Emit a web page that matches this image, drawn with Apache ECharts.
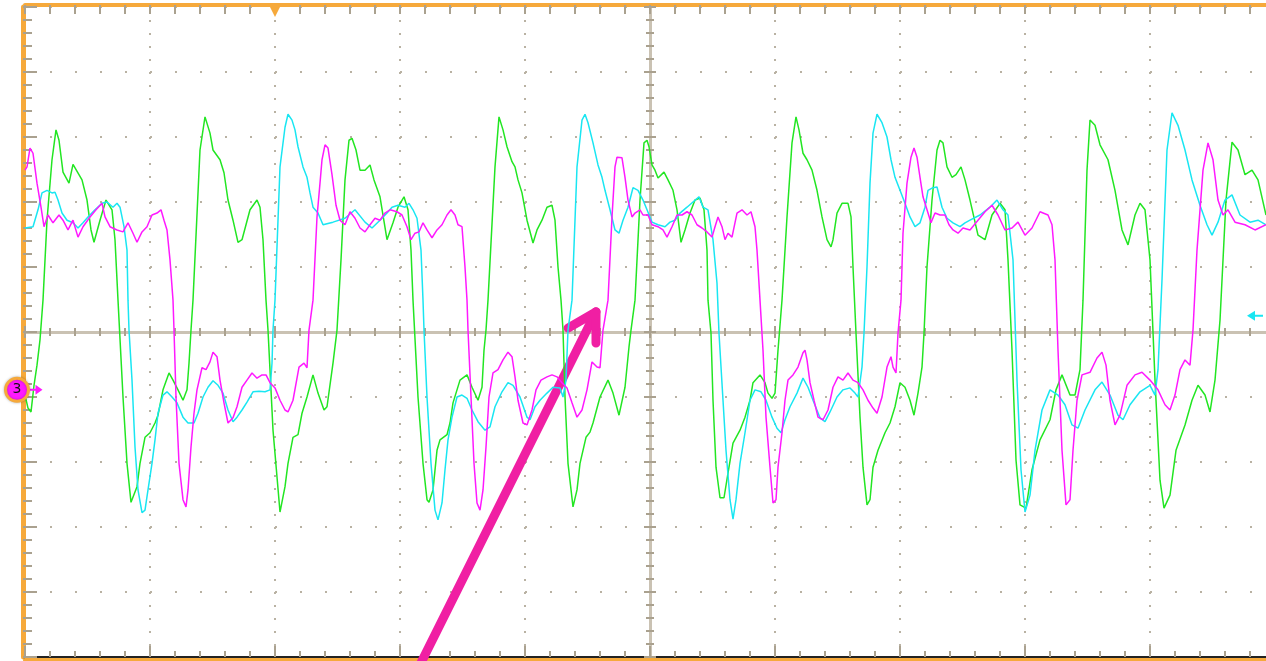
<!DOCTYPE html>
<html>
<head>
<meta charset="utf-8">
<title>Scope capture</title>
<script src="https://cdn.jsdelivr.net/npm/echarts/dist/echarts.min.js"></script>
<style>
  html, body { margin: 0; padding: 0; background: #ffffff; }
  #chart { width: 1266px; height: 661px; }
</style>
</head>
<body>
<div id="chart"></div>
<script>
// Time in microseconds (250 us/div, 10 divisions), amplitude in divisions (1 div per gridline).
const TIME_MAX = 2500;
const TIME_DIV = 250;
const AMP_MIN = -5;
const AMP_MAX = 5;

// Channel 2 (green)
const greenTrace = [
[0,-0.97],[6,-1.17],[12,-1.23],[18,-0.82],[24,-0.51],[30,-0.12],[36,0.49],[44,1.72],[54,2.65],[62,3.11],[68,2.95],[76,2.46],[88,2.29],[96,2.58],[114,2.34],[124,2.03],[132,1.57],[138,1.38],[150,1.72],[162,2.03],[166,2.06],[174,1.88],[180,1.42],[186,0.49],[196,-1.00],[204,-2.02],[212,-2.62],[216,-2.62],[224,-2.38],[230,-2.02],[240,-1.62],[250,-1.55],[260,-1.40],[266,-1.28],[276,-0.89],[288,-0.63],[296,-0.74],[306,-0.89],[316,-1.05],[324,-0.89],[328,-0.48],[332,0.03],[336,0.49],[350,2.80],[360,3.31],[370,3.06],[376,2.80],[390,2.65],[398,2.45],[406,2.03],[416,1.72],[426,1.38],[434,1.42],[450,1.88],[464,2.03],[470,1.92],[476,1.42],[482,0.49],[486,0.03],[496,-1.51],[510,-2.77],[520,-2.38],[526,-2.02],[536,-1.62],[546,-1.58],[554,-1.25],[564,-1.00],[576,-0.66],[586,-0.94],[598,-1.20],[604,-1.15],[616,-0.48],[624,0.03],[632,1.11],[640,2.34],[648,2.95],[654,2.98],[662,2.80],[670,2.49],[680,2.49],[690,2.57],[698,2.34],[710,2.08],[724,1.42],[736,1.68],[746,1.92],[758,2.08],[766,1.88],[772,1.26],[776,0.49],[786,-1.00],[796,-2.02],[804,-2.58],[808,-2.62],[816,-2.43],[824,-1.82],[830,-1.66],[844,-1.58],[850,-1.40],[856,-1.09],[870,-0.74],[884,-0.66],[894,-0.85],[906,-1.05],[914,-0.85],[918,-0.28],[922,0.03],[926,0.49],[940,2.54],[948,3.31],[956,3.11],[964,2.85],[974,2.62],[980,2.54],[986,2.34],[994,2.14],[1004,1.72],[1016,1.37],[1024,1.57],[1034,1.72],[1044,1.92],[1054,1.95],[1060,1.72],[1066,1.00],[1072,0.49],[1076,0.03],[1080,-1.00],[1086,-2.02],[1096,-2.69],[1104,-2.43],[1110,-2.02],[1122,-1.62],[1130,-1.54],[1136,-1.40],[1150,-1.00],[1166,-0.74],[1176,-0.94],[1188,-1.28],[1200,-0.85],[1208,-0.23],[1212,0.03],[1220,0.49],[1230,2.03],[1238,2.91],[1244,2.95],[1248,2.85],[1254,2.57],[1260,2.49],[1266,2.37],[1278,2.46],[1286,2.34],[1296,2.18],[1304,1.88],[1312,1.38],[1320,1.57],[1330,1.83],[1340,2.03],[1350,2.06],[1358,1.88],[1364,1.26],[1366,0.49],[1372,-0.02],[1376,-1.05],[1382,-2.08],[1390,-2.55],[1398,-2.55],[1406,-2.17],[1416,-1.71],[1430,-1.51],[1440,-1.31],[1450,-1.05],[1456,-0.78],[1470,-0.66],[1480,-0.78],[1486,-0.94],[1494,-1.02],[1500,-0.94],[1506,-0.28],[1514,0.49],[1524,1.77],[1534,2.91],[1542,3.31],[1548,3.11],[1556,2.75],[1564,2.65],[1574,2.49],[1584,2.18],[1594,1.77],[1604,1.42],[1612,1.31],[1616,1.42],[1624,1.83],[1634,1.98],[1646,1.98],[1652,1.77],[1656,1.00],[1662,-0.02],[1670,-1.31],[1676,-2.08],[1684,-2.66],[1690,-2.58],[1696,-2.08],[1706,-1.82],[1720,-1.55],[1730,-1.40],[1740,-1.15],[1750,-0.78],[1760,-0.85],[1770,-1.05],[1778,-1.28],[1786,-0.94],[1794,-0.54],[1798,-0.02],[1804,1.00],[1814,2.03],[1824,2.80],[1830,2.95],[1836,2.91],[1844,2.54],[1854,2.38],[1862,2.42],[1872,2.54],[1880,2.34],[1890,2.03],[1906,1.49],[1920,1.42],[1934,1.80],[1950,1.98],[1960,1.88],[1966,1.11],[1974,-0.28],[1982,-1.97],[1990,-2.66],[2002,-2.71],[2014,-2.12],[2030,-1.66],[2050,-1.35],[2062,-0.89],[2074,-0.66],[2090,-0.97],[2100,-0.97],[2110,-0.58],[2116,0.49],[2124,2.49],[2130,3.26],[2140,3.18],[2150,2.88],[2166,2.65],[2180,2.18],[2194,1.57],[2206,1.34],[2220,1.80],[2230,1.98],[2240,1.88],[2250,1.11],[2260,-0.74],[2270,-2.28],[2278,-2.71],[2290,-2.51],[2302,-1.82],[2320,-1.43],[2334,-1.05],[2346,-0.82],[2360,-0.97],[2370,-1.23],[2380,-0.74],[2390,0.18],[2402,2.03],[2414,2.92],[2426,2.80],[2440,2.42],[2454,2.49],[2466,2.34],[2482,1.80]
];

// Channel 1 (cyan)
const cyanTrace = [
[0,1.60],[4,1.62],[16,1.62],[26,1.88],[34,2.14],[44,2.18],[54,2.14],[60,2.15],[66,2.03],[74,1.83],[84,1.72],[96,1.68],[106,1.60],[116,1.68],[126,1.77],[140,1.88],[154,1.98],[164,2.00],[176,1.92],[184,1.98],[190,1.92],[198,1.62],[204,1.26],[206,0.49],[208,0.03],[214,-0.74],[220,-1.77],[226,-2.43],[234,-2.78],[240,-2.74],[246,-2.43],[254,-2.02],[260,-1.66],[266,-1.25],[276,-0.97],[284,-0.92],[294,-1.00],[304,-1.09],[316,-1.31],[326,-1.40],[338,-1.40],[346,-1.25],[356,-1.00],[366,-0.85],[376,-0.75],[386,-0.82],[396,-0.94],[406,-1.20],[416,-1.38],[424,-1.31],[434,-1.20],[444,-1.08],[456,-0.92],[468,-0.91],[480,-0.92],[490,-0.89],[494,-0.48],[496,0.03],[500,0.49],[510,2.54],[520,3.15],[526,3.35],[534,3.26],[540,3.11],[546,2.85],[556,2.54],[564,2.38],[570,2.14],[576,1.92],[586,1.83],[596,1.65],[616,1.69],[640,1.75],[660,1.88],[680,1.69],[694,1.60],[710,1.72],[724,1.83],[734,1.92],[746,1.95],[760,1.92],[768,1.98],[776,1.88],[784,1.75],[792,1.26],[796,0.49],[798,0.03],[804,-1.00],[812,-2.02],[820,-2.74],[826,-2.89],[834,-2.63],[840,-2.12],[846,-1.66],[854,-1.31],[864,-1.00],[874,-0.97],[884,-1.02],[894,-1.20],[906,-1.38],[920,-1.51],[930,-1.46],[940,-1.15],[954,-0.92],[966,-0.78],[976,-0.82],[990,-1.00],[1004,-1.31],[1010,-1.35],[1020,-1.15],[1030,-1.05],[1044,-0.94],[1056,-0.85],[1070,-0.86],[1076,-1.00],[1082,-0.74],[1086,0.03],[1094,0.49],[1104,2.54],[1114,3.26],[1120,3.35],[1126,3.22],[1136,2.91],[1146,2.57],[1154,2.38],[1160,2.18],[1170,1.88],[1180,1.57],[1188,1.52],[1196,1.72],[1206,1.92],[1216,2.22],[1226,2.18],[1236,2.03],[1244,1.88],[1254,1.69],[1266,1.65],[1280,1.62],[1290,1.69],[1300,1.72],[1310,1.83],[1324,1.92],[1336,2.00],[1348,2.08],[1356,1.92],[1366,1.88],[1376,1.42],[1384,0.75],[1388,-0.02],[1396,-1.05],[1402,-1.82],[1410,-2.58],[1416,-2.88],[1422,-2.58],[1430,-2.02],[1440,-1.55],[1450,-1.05],[1460,-0.89],[1472,-0.92],[1482,-1.05],[1494,-1.31],[1504,-1.48],[1512,-1.55],[1520,-1.35],[1530,-1.15],[1544,-0.94],[1556,-0.71],[1566,-0.85],[1576,-1.05],[1590,-1.32],[1600,-1.38],[1610,-1.23],[1624,-1.00],[1636,-0.89],[1650,-0.86],[1660,-0.94],[1666,-1.00],[1674,-0.54],[1678,-0.02],[1684,1.00],[1690,2.29],[1696,3.06],[1704,3.35],[1714,3.22],[1724,3.00],[1732,2.65],[1740,2.38],[1750,2.18],[1760,1.98],[1770,1.77],[1780,1.62],[1790,1.68],[1800,1.92],[1806,2.18],[1816,2.22],[1824,2.23],[1834,1.92],[1844,1.75],[1856,1.68],[1870,1.62],[1880,1.68],[1890,1.72],[1910,1.80],[1930,1.92],[1944,2.03],[1956,1.88],[1966,1.80],[1976,1.11],[1984,-0.74],[1992,-2.12],[2000,-2.77],[2010,-2.51],[2020,-1.82],[2034,-1.20],[2050,-0.89],[2066,-0.97],[2080,-1.12],[2094,-1.43],[2106,-1.48],[2120,-1.20],[2140,-0.89],[2154,-0.77],[2170,-0.97],[2186,-1.28],[2196,-1.35],[2210,-1.12],[2230,-0.92],[2250,-0.82],[2260,-0.97],[2266,-0.58],[2274,0.80],[2284,2.80],[2294,3.37],[2306,3.18],[2320,2.80],[2334,2.34],[2350,1.95],[2364,1.65],[2374,1.49],[2386,1.69],[2400,2.03],[2414,2.11],[2430,1.80],[2450,1.69],[2466,1.72],[2482,1.65]
];

// Channel 3 (magenta)
const magentaTrace = [
[0,2.49],[4,2.54],[10,2.83],[16,2.75],[24,2.29],[32,1.92],[38,1.62],[46,1.80],[56,1.68],[68,1.80],[76,1.72],[86,1.57],[96,1.72],[106,1.46],[116,1.62],[130,1.77],[142,1.88],[154,1.98],[160,1.77],[170,1.62],[184,1.57],[196,1.54],[206,1.68],[216,1.52],[224,1.38],[234,1.54],[244,1.62],[254,1.80],[264,1.83],[272,1.88],[278,1.72],[284,1.57],[290,1.11],[296,0.49],[298,0.03],[302,-1.00],[308,-2.02],[316,-2.58],[322,-2.69],[326,-2.43],[332,-1.77],[338,-1.25],[344,-0.89],[354,-0.55],[362,-0.58],[370,-0.46],[376,-0.31],[384,-0.38],[390,-0.74],[398,-1.09],[406,-1.40],[416,-1.32],[424,-1.15],[434,-0.85],[444,-0.74],[454,-0.63],[464,-0.71],[474,-0.66],[482,-0.66],[490,-0.78],[500,-0.86],[510,-1.05],[520,-1.20],[526,-1.23],[536,-1.05],[548,-0.54],[558,-0.48],[564,-0.55],[568,0.03],[576,0.49],[584,1.77],[590,2.29],[594,2.65],[600,2.88],[606,2.83],[614,2.42],[622,1.95],[630,1.72],[640,1.65],[650,1.85],[660,1.75],[670,1.60],[680,1.54],[690,1.65],[700,1.75],[710,1.72],[720,1.83],[730,1.88],[744,1.85],[754,1.80],[764,1.62],[772,1.42],[780,1.52],[788,1.54],[796,1.68],[804,1.57],[814,1.45],[824,1.57],[834,1.65],[844,1.80],[852,1.88],[860,1.80],[866,1.65],[874,1.62],[880,1.00],[884,0.49],[886,0.03],[892,-1.00],[898,-2.02],[904,-2.63],[910,-2.74],[916,-2.43],[922,-1.77],[928,-1.00],[936,-0.63],[946,-0.58],[956,-0.43],[966,-0.31],[974,-0.38],[980,-0.69],[986,-1.05],[996,-1.40],[1004,-1.43],[1014,-1.20],[1022,-0.89],[1032,-0.74],[1044,-0.69],[1054,-0.66],[1064,-0.69],[1074,-0.78],[1084,-0.86],[1094,-1.09],[1104,-1.31],[1114,-1.20],[1124,-0.89],[1134,-0.46],[1144,-0.54],[1150,-0.55],[1156,0.03],[1166,0.49],[1174,1.77],[1180,2.54],[1184,2.69],[1194,2.68],[1200,2.38],[1206,2.03],[1214,1.77],[1220,1.83],[1230,1.88],[1236,1.80],[1246,1.80],[1254,1.65],[1266,1.62],[1276,1.57],[1284,1.46],[1294,1.62],[1304,1.80],[1314,1.80],[1324,1.85],[1334,1.80],[1344,1.65],[1354,1.60],[1364,1.54],[1374,1.46],[1380,1.62],[1386,1.77],[1394,1.62],[1400,1.42],[1406,1.52],[1414,1.46],[1424,1.83],[1434,1.88],[1444,1.80],[1452,1.85],[1460,1.62],[1464,1.26],[1470,0.49],[1476,-0.28],[1482,-1.31],[1490,-2.08],[1496,-2.63],[1502,-2.58],[1506,-2.08],[1514,-1.55],[1520,-1.05],[1526,-0.74],[1536,-0.66],[1546,-0.54],[1556,-0.32],[1560,-0.28],[1564,-0.43],[1570,-0.78],[1578,-1.05],[1586,-1.31],[1596,-1.35],[1606,-1.20],[1616,-0.85],[1626,-0.69],[1636,-0.74],[1646,-0.63],[1656,-0.74],[1666,-0.78],[1676,-0.89],[1686,-1.05],[1696,-1.17],[1704,-1.25],[1714,-1.00],[1724,-0.54],[1732,-0.38],[1736,-0.54],[1742,-0.63],[1746,-0.02],[1752,0.49],[1756,1.52],[1764,2.29],[1772,2.69],[1778,2.83],[1784,2.69],[1790,2.38],[1796,2.08],[1804,1.88],[1812,1.68],[1820,1.83],[1830,1.80],[1840,1.80],[1848,1.65],[1856,1.57],[1866,1.52],[1876,1.60],[1890,1.57],[1906,1.72],[1920,1.85],[1934,1.95],[1946,1.80],[1960,1.57],[1974,1.60],[1986,1.69],[2000,1.49],[2014,1.60],[2030,1.85],[2046,1.80],[2054,1.65],[2060,1.11],[2066,-0.28],[2074,-1.82],[2082,-2.66],[2090,-2.58],[2096,-1.82],[2104,-1.05],[2114,-0.66],[2130,-0.62],[2144,-0.40],[2154,-0.31],[2162,-0.51],[2170,-1.05],[2180,-1.43],[2190,-1.28],[2204,-0.82],[2220,-0.66],[2234,-0.62],[2250,-0.74],[2266,-0.89],[2280,-1.12],[2290,-1.20],[2300,-0.97],[2310,-0.58],[2320,-0.43],[2330,-0.51],[2336,0.03],[2344,1.26],[2356,2.49],[2366,2.91],[2376,2.65],[2386,2.03],[2396,1.80],[2406,1.88],[2420,1.69],[2440,1.65],[2460,1.57],[2482,1.65]
];

// Reference levels shown at the screen edges
const triggerTime = 500;        // trigger position (top marker)
const ch3Offset = -0.89;        // channel 3 ground marker
const ch1Offset = 0.25;         // channel 1 ground marker (right edge)

// Hand-drawn annotation arrow, in data coordinates
const arrowShaft = [[790, -5.12], [1142, 0.31]];
const arrowHead = [[1086, 0.06], [1142, 0.31], [1142, -0.17]];

const COLORS = {
  green: '#22e622',
  cyan: '#19e6f2',
  magenta: '#ff19ff',
  frame: '#f6a93b',
  tick: '#aaa18f',
  dot: '#b9b2a3',
  center: '#cac2b3',
  arrow: '#f01fa3'
};

const chart = echarts.init(document.getElementById('chart'), null, { renderer: 'canvas' });

const hiddenValueAxis = (grid, min, max) => ({
  type: 'value', gridIndex: grid, min: min, max: max, show: false,
  axisLine: { onZero: false }
});

const tickStyle = { color: COLORS.tick, width: 2 };

const option = {
  animation: false,
  backgroundColor: '#ffffff',
  grid: [
    { left: 25, top: 7, width: 1250, height: 650, outerBoundsMode: 'none' },   // screen
    { left: 25, top: 7, width: 1250, height: 325, outerBoundsMode: 'none' },   // upper half
    { left: 25, top: 332, width: 1250, height: 325, outerBoundsMode: 'none' }, // lower half
    { left: 25, top: 7, width: 625, height: 650, outerBoundsMode: 'none' },    // left half
    { left: 650, top: 7, width: 625, height: 650, outerBoundsMode: 'none' }    // right half
  ],
  xAxis: [
    { // time axis, bottom edge
      type: 'value', gridIndex: 0, position: 'bottom', min: 0, max: TIME_MAX, interval: TIME_DIV,
      axisLine: { show: true, onZero: false, lineStyle: { color: '#222222', width: 3 } },
      axisTick: { show: true, inside: true, length: 11, lineStyle: tickStyle },
      minorTick: { show: true, splitNumber: 5, length: 6, lineStyle: tickStyle },
      axisLabel: { show: false },
      splitLine: { show: true, lineStyle: { color: COLORS.dot, width: 2, type: [2, 11] } }
    },
    { // top edge
      type: 'value', gridIndex: 0, position: 'top', offset: 2, min: 0, max: TIME_MAX, interval: TIME_DIV,
      axisLine: { show: true, onZero: false, lineStyle: { color: COLORS.frame, width: 4 } },
      axisTick: { show: true, inside: true, length: 9, lineStyle: tickStyle },
      minorTick: { show: true, splitNumber: 5, length: 9, lineStyle: tickStyle },
      axisLabel: { show: false },
      splitLine: { show: false }
    },
    { // centre horizontal graticule, upper ticks
      type: 'value', gridIndex: 1, position: 'bottom', min: 0, max: TIME_MAX, interval: TIME_DIV,
      axisLine: { show: true, onZero: false, lineStyle: { color: COLORS.center, width: 3 } },
      axisTick: { show: true, inside: true, length: 6, lineStyle: tickStyle },
      minorTick: { show: true, splitNumber: 5, length: 4, lineStyle: tickStyle },
      axisLabel: { show: false }, splitLine: { show: false }
    },
    { // centre horizontal graticule, lower ticks
      type: 'value', gridIndex: 2, position: 'top', min: 0, max: TIME_MAX, interval: TIME_DIV,
      axisLine: { show: false, onZero: false },
      axisTick: { show: true, inside: true, length: 6, lineStyle: tickStyle },
      minorTick: { show: true, splitNumber: 5, length: 4, lineStyle: tickStyle },
      axisLabel: { show: false }, splitLine: { show: false }
    },
    { // bottom frame
      type: 'value', gridIndex: 2, position: 'bottom', offset: 3, min: 0, max: TIME_MAX,
      axisLine: { show: true, onZero: false, lineStyle: { color: COLORS.frame, width: 4 } },
      axisTick: { show: false }, axisLabel: { show: false }, splitLine: { show: false }
    },
    hiddenValueAxis(3, 0, 1),
    hiddenValueAxis(4, 0, 1)
  ],
  yAxis: [
    { // amplitude axis, left edge
      type: 'value', gridIndex: 0, position: 'left', offset: 2, min: AMP_MIN, max: AMP_MAX, interval: 1,
      axisLine: { show: true, onZero: false, lineStyle: { color: COLORS.frame, width: 5 } },
      axisTick: { show: true, inside: true, length: 14, lineStyle: tickStyle },
      minorTick: { show: true, splitNumber: 5, length: 9, lineStyle: tickStyle },
      axisLabel: { show: false },
      splitLine: { show: true, lineStyle: { color: COLORS.dot, width: 2, type: [2, 23] } }
    },
    hiddenValueAxis(1, 0, 5),
    hiddenValueAxis(2, -5, 0),
    { // centre vertical graticule, left ticks
      type: 'value', gridIndex: 3, position: 'right', min: AMP_MIN, max: AMP_MAX, interval: 1,
      axisLine: { show: true, onZero: false, lineStyle: { color: COLORS.center, width: 3 } },
      axisTick: { show: true, inside: true, length: 6, lineStyle: tickStyle },
      minorTick: { show: true, splitNumber: 5, length: 4, lineStyle: tickStyle },
      axisLabel: { show: false }, splitLine: { show: false }
    },
    { // centre vertical graticule, right ticks
      type: 'value', gridIndex: 4, position: 'left', min: AMP_MIN, max: AMP_MAX, interval: 1,
      axisLine: { show: false, onZero: false },
      axisTick: { show: true, inside: true, length: 6, lineStyle: tickStyle },
      minorTick: { show: true, splitNumber: 5, length: 4, lineStyle: tickStyle },
      axisLabel: { show: false }, splitLine: { show: false }
    }
  ],
  series: [
    {
      name: 'CH2', type: 'line', xAxisIndex: 0, yAxisIndex: 0, data: greenTrace,
      showSymbol: false, symbol: 'none', silent: true,
      lineStyle: { color: COLORS.green, width: 1.5 },
      markPoint: {
        silent: true,
        data: [{
          coord: [triggerTime, AMP_MAX], symbol: 'triangle', symbolRotate: 180,
          symbolSize: [12, 12], symbolOffset: [0, 4],
          itemStyle: { color: COLORS.frame }, label: { show: false }
        }]
      }
    },
    {
      name: 'CH1', type: 'line', xAxisIndex: 0, yAxisIndex: 0, data: cyanTrace,
      showSymbol: false, symbol: 'none', silent: true,
      lineStyle: { color: COLORS.cyan, width: 1.5 },
      markPoint: {
        silent: true,
        data: [{
          coord: [TIME_MAX, ch1Offset],
          symbol: 'path://M0,5 L8,0 L8,4 L16,4 L16,6 L8,6 L8,10 Z',
          symbolSize: [16, 10], symbolOffset: [-20, 0], symbolKeepAspect: false,
          itemStyle: { color: COLORS.cyan }, label: { show: false }
        }]
      }
    },
    {
      name: 'CH3', type: 'line', xAxisIndex: 0, yAxisIndex: 0, data: magentaTrace,
      showSymbol: false, symbol: 'none', silent: true,
      lineStyle: { color: COLORS.magenta, width: 1.5 },
      markPoint: {
        silent: true,
        data: [
          {
            coord: [0, ch3Offset],
            symbol: 'path://M0,4 L6,4 L6,0 L13,5 L6,10 L6,6 L0,6 Z',
            symbolSize: [13, 10], symbolOffset: [11, 0],
            itemStyle: { color: COLORS.magenta }, label: { show: false }
          },
          {
            coord: [0, ch3Offset], symbol: 'circle', symbolSize: 23, symbolOffset: [-8, 0],
            itemStyle: {
              color: COLORS.magenta, borderColor: COLORS.frame, borderWidth: 3,
              shadowColor: 'rgba(0,0,0,0.25)', shadowBlur: 3
            },
            label: {
              show: true, formatter: '3', position: 'inside', color: '#111111',
              fontSize: 14, fontFamily: 'DejaVu Sans, sans-serif'
            }
          }
        ]
      }
    },
    {
      name: 'annotation', type: 'custom', xAxisIndex: 0, yAxisIndex: 0,
      coordinateSystem: 'cartesian2d', clip: false, silent: true,
      data: [[0, 0]],
      renderItem: function (params, api) {
        const style = { stroke: COLORS.arrow, lineWidth: 9, lineCap: 'round', lineJoin: 'round', fill: null };
        return {
          type: 'group',
          children: [
            { type: 'polyline', shape: { points: arrowShaft.map(p => api.coord(p)) }, style: style },
            { type: 'polyline', shape: { points: arrowHead.map(p => api.coord(p)) }, style: style }
          ]
        };
      }
    }
  ]
};

chart.setOption(option);
</script>
</body>
</html>
